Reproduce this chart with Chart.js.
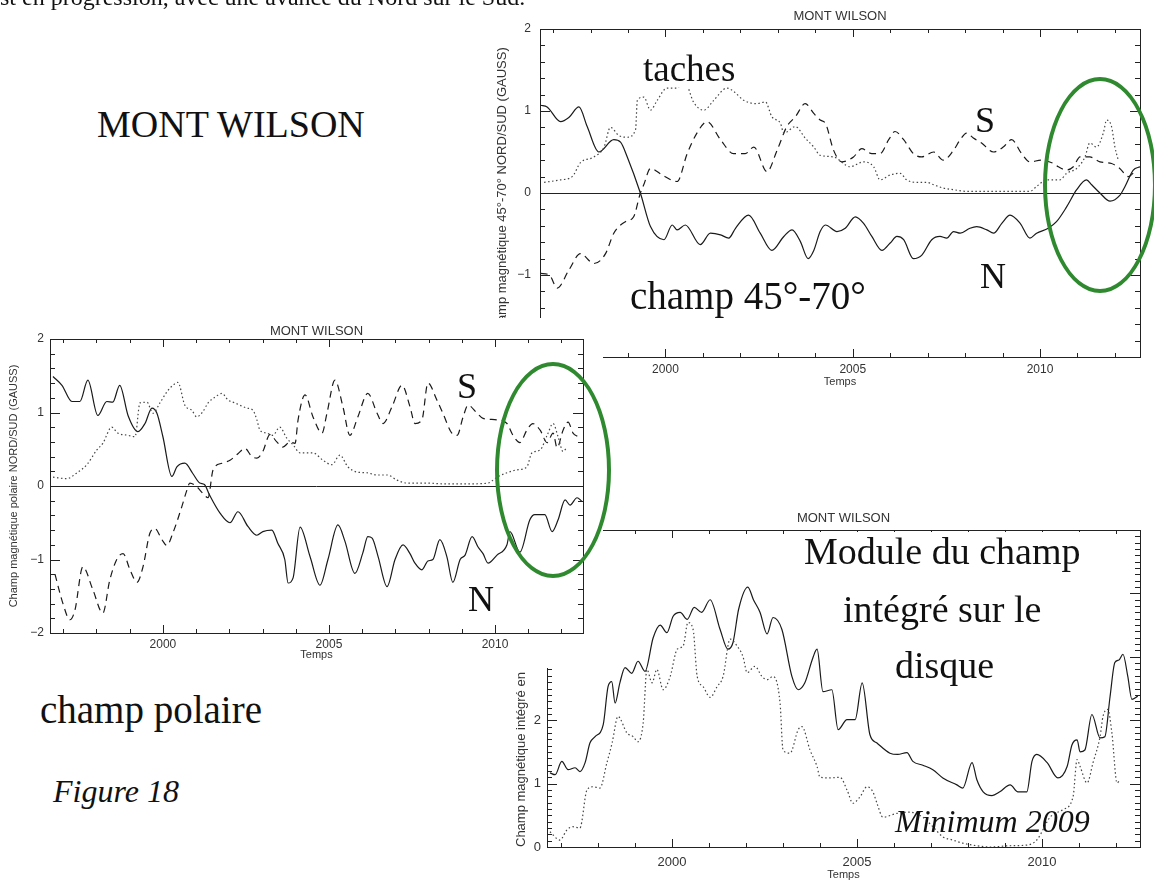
<!DOCTYPE html>
<html>
<head>
<meta charset="utf-8">
<script src="https://cdn.jsdelivr.net/npm/chart.js@4.4.1/dist/chart.umd.min.js"></script>
<style>
  body { margin: 0; width: 1154px; height: 884px; overflow: hidden; background: #fff; position: relative; font-family: "Liberation Serif", "Times New Roman", serif; }
  .panel { position: absolute; }
  .panel canvas { display: block; }
  .txt { position: absolute; color: #111; white-space: nowrap; line-height: 1; z-index: 5; }
  .box { background: #fff; }
  .ell { position: absolute; border: 4px solid #2f8a2f; border-radius: 50%; box-sizing: border-box; z-index: 10; }
</style>
</head>
<body>

<div class="txt" style="left:0;top:-15px;font-size:24px">st en progression, avec une avance du Nord sur le Sud.</div>

<div class="panel" id="panelA" style="left:480px;top:0;width:674px;height:392px;z-index:1"><canvas id="chartA" width="674" height="392"></canvas></div>
<div class="panel" id="panelC" style="left:480px;top:500px;width:674px;height:384px;z-index:2"><canvas id="chartC" width="674" height="384"></canvas></div>
<div class="panel" id="panelB" style="left:0;top:318px;width:603px;height:350px;z-index:3;background:#fff"><canvas id="chartB" width="603" height="350"></canvas></div>

<div class="txt" style="left:97px;top:105px;font-size:38px">MONT WILSON</div>
<div class="txt box" style="left:643px;top:50px;font-size:37px">taches</div>
<div class="txt" style="left:975px;top:102px;font-size:36px">S</div>
<div class="txt box" style="left:630px;top:276px;font-size:39px">champ 45°-70°</div>
<div class="txt" style="left:980px;top:258px;font-size:36px">N</div>
<div class="txt" style="left:457px;top:368px;font-size:36px">S</div>
<div class="txt" style="left:468px;top:581px;font-size:36px">N</div>
<div class="txt box" style="left:40px;top:690px;font-size:39px">champ polaire</div>
<div class="txt" style="left:53px;top:775px;font-size:32px;font-style:italic">Figure 18</div>
<div class="txt box" style="left:804px;top:532px;font-size:38px">Module du champ</div>
<div class="txt box" style="left:843px;top:590px;font-size:38px">intégré sur le</div>
<div class="txt box" style="left:895px;top:646px;font-size:38px">disque</div>
<div class="txt" style="left:895px;top:805px;font-size:32px;font-style:italic">Minimum 2009</div>

<div class="ell" style="left:1043px;top:77px;width:114px;height:216px"></div>
<div class="ell" style="left:495px;top:362px;width:116px;height:216px"></div>

<script>
// champ 45°-70° (Mont Wilson), [année, gauss]
const latNord = [[1996.67,1.07],[1996.84,1.05],[1997.2,0.87],[1997.42,0.92],[1997.69,1.05],[1997.91,0.81],[1998.22,0.5],[1998.62,0.65],[1998.8,0.62],[1998.98,0.44],[1999.33,0.0],[1999.6,-0.41],[1999.96,-0.57],[2000.18,-0.39],[2000.31,-0.45],[2000.53,-0.39],[2000.93,-0.63],[2001.2,-0.49],[2001.47,-0.51],[2001.69,-0.55],[2001.87,-0.43],[2002.22,-0.27],[2002.53,-0.49],[2002.84,-0.7],[2003.16,-0.53],[2003.38,-0.45],[2003.6,-0.59],[2003.81,-0.8],[2003.96,-0.7],[2004.13,-0.47],[2004.27,-0.39],[2004.58,-0.47],[2004.8,-0.43],[2005.07,-0.29],[2005.29,-0.37],[2005.51,-0.53],[2005.78,-0.7],[2006.0,-0.61],[2006.18,-0.53],[2006.36,-0.57],[2006.62,-0.8],[2006.84,-0.76],[2007.11,-0.57],[2007.33,-0.53],[2007.51,-0.55],[2007.69,-0.47],[2007.87,-0.49],[2008.13,-0.43],[2008.31,-0.41],[2008.58,-0.45],[2008.76,-0.49],[2008.98,-0.37],[2009.2,-0.27],[2009.47,-0.37],[2009.73,-0.55],[2009.91,-0.49],[2010.22,-0.43],[2010.44,-0.35],[2010.71,-0.17],[2010.98,0.04],[2011.24,0.16],[2011.38,0.1],[2011.6,0.0],[2011.87,-0.1],[2012.13,-0.03],[2012.27,0.08],[2012.49,0.28],[2012.67,0.32]];
const latSud = [[1996.67,-0.98],[1996.9,-1.0],[1997.11,-1.16],[1997.42,-0.94],[1997.73,-0.74],[1998.09,-0.86],[1998.4,-0.74],[1998.62,-0.49],[1998.93,-0.35],[1999.15,-0.29],[1999.33,0.0],[1999.42,0.1],[1999.6,0.3],[1999.91,0.22],[2000.31,0.14],[2000.58,0.48],[2000.84,0.73],[2001.11,0.87],[2001.47,0.65],[2001.82,0.48],[2002.13,0.48],[2002.36,0.56],[2002.71,0.26],[2002.98,0.52],[2003.24,0.81],[2003.47,0.93],[2003.73,1.09],[2003.96,0.97],[2004.13,0.89],[2004.27,0.85],[2004.49,0.52],[2004.71,0.38],[2005.02,0.44],[2005.24,0.54],[2005.51,0.48],[2005.73,0.48],[2005.96,0.65],[2006.13,0.75],[2006.36,0.65],[2006.62,0.48],[2006.84,0.44],[2007.16,0.5],[2007.42,0.4],[2007.69,0.52],[2007.87,0.65],[2008.04,0.73],[2008.22,0.67],[2008.44,0.61],[2008.76,0.5],[2009.02,0.56],[2009.24,0.65],[2009.51,0.48],[2009.73,0.38],[2010.04,0.4],[2010.36,0.36],[2010.49,0.32],[2010.71,0.28],[2010.89,0.32],[2011.07,0.44],[2011.33,0.44],[2011.6,0.38],[2011.91,0.36],[2012.13,0.3],[2012.36,0.2],[2012.55,0.27]];
const latTaches = [[1996.76,0.13],[1997.2,0.16],[1997.51,0.2],[1997.73,0.37],[1998.09,0.44],[1998.36,0.56],[1998.53,0.8],[1998.76,0.7],[1998.98,0.68],[1999.2,0.77],[1999.25,1.13],[1999.42,1.17],[1999.6,1.01],[1999.78,1.13],[2000.04,1.28],[2000.31,1.28],[2000.49,1.38],[2000.76,1.1],[2001.02,1.01],[2001.29,1.13],[2001.64,1.28],[2001.82,1.24],[2002.09,1.13],[2002.44,1.09],[2002.67,1.11],[2002.84,0.93],[2003.07,0.85],[2003.16,0.73],[2003.47,0.81],[2003.73,0.67],[2003.96,0.56],[2004.13,0.46],[2004.49,0.44],[2004.93,0.32],[2005.29,0.38],[2005.56,0.32],[2005.73,0.16],[2006.0,0.22],[2006.27,0.24],[2006.44,0.16],[2006.71,0.13],[2006.98,0.13],[2007.16,0.1],[2007.42,0.06],[2007.69,0.04],[2008.04,0.02],[2008.93,0.02],[2009.73,0.02],[2009.91,0.08],[2010.18,0.16],[2010.53,0.16],[2010.71,0.24],[2010.98,0.3],[2011.2,0.44],[2011.33,0.61],[2011.51,0.56],[2011.69,0.73],[2011.78,0.89],[2011.91,0.81],[2012.0,0.56],[2012.09,0.4]];

// champ polaire
const polNord = [[1996.69,1.49],[1996.96,1.37],[1997.26,1.15],[1997.5,1.15],[1997.74,1.44],[1998.04,0.96],[1998.31,1.15],[1998.49,1.14],[1998.7,1.37],[1998.95,0.96],[1999.25,0.74],[1999.46,0.85],[1999.67,1.06],[1999.82,0.99],[2000.0,0.67],[2000.27,0.13],[2000.42,0.26],[2000.66,0.31],[2000.9,0.17],[2001.11,0.04],[2001.25,0.02],[2001.4,-0.12],[2001.72,-0.37],[2002.02,-0.5],[2002.26,-0.35],[2002.56,-0.55],[2002.83,-0.67],[2003.01,-0.62],[2003.28,-0.6],[2003.46,-0.78],[2003.67,-1.0],[2003.77,-1.32],[2003.92,-1.25],[2004.13,-0.56],[2004.43,-0.96],[2004.73,-1.35],[2004.97,-1.0],[2005.27,-0.53],[2005.48,-0.75],[2005.78,-1.19],[2006.02,-0.91],[2006.17,-0.69],[2006.3,-0.71],[2006.48,-0.96],[2006.75,-1.37],[2006.99,-1.0],[2007.23,-0.8],[2007.44,-0.92],[2007.59,-1.05],[2007.8,-1.14],[2007.98,-1.02],[2008.13,-1.0],[2008.34,-0.73],[2008.55,-0.96],[2008.73,-1.31],[2008.95,-1.0],[2009.1,-0.94],[2009.31,-0.69],[2009.49,-0.83],[2009.64,-0.92],[2009.79,-1.05],[2010.06,-0.94],[2010.36,-0.8],[2010.45,-0.62],[2010.75,-0.9],[2011.05,-0.46],[2011.2,-0.39],[2011.5,-0.39],[2011.72,-0.62],[2011.9,-0.46],[2012.11,-0.19],[2012.26,-0.26],[2012.47,-0.16],[2012.62,-0.21]];
const polSud = [[1996.75,-1.2],[1996.99,-1.6],[1997.2,-1.82],[1997.35,-1.69],[1997.59,-1.1],[1997.89,-1.41],[1998.19,-1.73],[1998.4,-1.28],[1998.61,-1.0],[1998.8,-0.92],[1999.01,-1.14],[1999.22,-1.31],[1999.4,-1.1],[1999.61,-0.64],[1999.76,-0.58],[1999.97,-0.73],[2000.12,-0.81],[2000.3,-0.64],[2000.57,-0.28],[2000.72,-0.06],[2000.81,0.04],[2001.02,-0.01],[2001.2,-0.1],[2001.36,-0.16],[2001.51,0.22],[2001.78,0.31],[2002.02,0.35],[2002.26,0.44],[2002.47,0.51],[2002.68,0.4],[2002.83,0.38],[2003.01,0.47],[2003.22,0.7],[2003.43,0.6],[2003.61,0.53],[2003.83,0.6],[2003.98,0.58],[2004.07,0.9],[2004.28,1.24],[2004.52,0.94],[2004.79,0.72],[2004.94,0.99],[2005.18,1.44],[2005.42,1.08],[2005.63,0.69],[2005.87,0.94],[2006.17,1.26],[2006.45,0.99],[2006.63,0.85],[2006.9,1.08],[2007.2,1.37],[2007.44,1.08],[2007.59,0.85],[2007.8,0.9],[2007.98,1.4],[2008.25,1.17],[2008.43,0.99],[2008.7,0.72],[2008.86,0.69],[2009.04,0.94],[2009.19,1.1],[2009.46,0.99],[2009.64,0.92],[2010.06,0.9],[2010.36,0.85],[2010.54,0.69],[2010.75,0.59],[2010.96,0.76],[2011.14,0.85],[2011.36,0.76],[2011.57,0.59],[2011.75,0.72],[2011.87,0.52],[2012.05,0.76],[2012.2,0.87],[2012.35,0.72],[2012.5,0.67]];
const polTaches = [[1996.69,0.12],[1997.11,0.1],[1997.41,0.18],[1997.71,0.29],[1998.01,0.49],[1998.19,0.58],[1998.46,0.8],[1998.64,0.72],[1998.95,0.69],[1999.16,0.67],[1999.31,1.13],[1999.52,1.14],[1999.7,0.99],[1999.91,1.13],[2000.12,1.28],[2000.3,1.37],[2000.45,1.41],[2000.66,1.1],[2000.87,1.03],[2001.02,0.94],[2001.2,1.01],[2001.36,1.13],[2001.57,1.21],[2001.78,1.26],[2001.96,1.17],[2002.17,1.13],[2002.53,1.06],[2002.71,1.03],[2002.83,0.9],[2002.92,0.76],[2003.13,0.72],[2003.31,0.69],[2003.52,0.8],[2003.73,0.65],[2003.92,0.56],[2004.13,0.45],[2004.52,0.45],[2004.82,0.35],[2005.09,0.29],[2005.33,0.42],[2005.57,0.26],[2005.84,0.19],[2006.14,0.18],[2006.45,0.15],[2006.75,0.15],[2007.05,0.08],[2007.35,0.04],[2007.95,0.04],[2008.43,0.03],[2009.34,0.03],[2009.79,0.04],[2010.06,0.12],[2010.36,0.18],[2010.66,0.22],[2010.96,0.26],[2011.11,0.45],[2011.36,0.49],[2011.57,0.69],[2011.75,0.85],[2011.9,0.67],[2012.05,0.47],[2012.17,0.53]];

// module du champ intégré sur le disque
const modChamp = [[1996.7,1.17],[1996.84,1.14],[1997.02,1.35],[1997.19,1.22],[1997.38,1.25],[1997.51,1.19],[1997.65,1.33],[1997.78,1.64],[1997.92,1.74],[1998.14,1.93],[1998.27,2.53],[1998.37,2.61],[1998.46,2.27],[1998.59,2.59],[1998.73,2.83],[1998.91,2.74],[1999.08,2.93],[1999.27,2.77],[1999.49,3.3],[1999.68,3.5],[1999.86,3.38],[2000.03,3.64],[2000.22,3.7],[2000.41,3.59],[2000.6,3.78],[2000.8,3.7],[2001.03,3.9],[2001.3,3.43],[2001.51,3.12],[2001.65,3.23],[2001.8,3.75],[2002.05,4.1],[2002.2,3.9],[2002.38,3.7],[2002.57,3.36],[2002.73,3.62],[2002.97,3.43],[2003.24,2.69],[2003.41,2.48],[2003.59,2.59],[2003.81,2.99],[2003.92,3.12],[2004.08,2.45],[2004.32,2.48],[2004.49,1.85],[2004.73,2.01],[2004.95,2.01],[2005.14,2.59],[2005.35,1.77],[2005.54,1.64],[2005.89,1.48],[2006.1,1.46],[2006.35,1.49],[2006.51,1.35],[2006.78,1.29],[2007.05,1.22],[2007.32,1.09],[2007.7,0.98],[2007.86,0.93],[2008.11,1.33],[2008.24,1.06],[2008.41,0.87],[2008.65,0.81],[2008.86,0.87],[2009.14,0.98],[2009.35,0.87],[2009.59,0.87],[2009.73,1.35],[2009.86,1.46],[2010.14,1.33],[2010.43,1.09],[2010.68,1.27],[2010.81,1.61],[2010.95,1.69],[2011.03,1.5],[2011.16,1.53],[2011.35,2.09],[2011.57,1.72],[2011.7,1.74],[2011.84,2.37],[2011.97,2.91],[2012.08,2.95],[2012.19,3.04],[2012.32,2.69],[2012.43,2.33],[2012.59,2.38]];
const modTaches = [[1996.7,0.24],[1996.97,0.11],[1997.16,0.27],[1997.32,0.32],[1997.51,0.3],[1997.7,0.9],[1997.86,0.95],[1998.05,0.93],[1998.24,1.33],[1998.38,1.64],[1998.54,2.06],[1998.78,1.8],[1998.95,1.74],[1999.08,1.66],[1999.22,1.96],[1999.32,2.8],[1999.46,2.59],[1999.59,2.8],[1999.76,2.48],[1999.95,2.69],[2000.14,3.12],[2000.3,3.17],[2000.43,3.54],[2000.57,3.43],[2000.68,2.69],[2000.84,2.53],[2001.03,2.36],[2001.22,2.53],[2001.38,2.69],[2001.57,3.28],[2001.76,3.17],[2001.92,3.0],[2002.03,2.75],[2002.24,2.85],[2002.43,2.69],[2002.57,2.64],[2002.73,2.69],[2002.92,2.27],[2003.0,1.53],[2003.19,1.48],[2003.41,1.85],[2003.51,1.9],[2003.73,1.53],[2003.92,1.27],[2004.0,1.1],[2004.27,1.09],[2004.54,1.1],[2004.73,0.9],[2004.89,0.69],[2005.08,0.79],[2005.27,0.95],[2005.43,0.87],[2005.54,0.69],[2005.7,0.47],[2006.08,0.53],[2006.43,0.55],[2006.78,0.47],[2007.05,0.32],[2007.32,0.16],[2007.59,0.11],[2007.86,0.06],[2008.24,0.02],[2008.59,0.0],[2009.14,0.02],[2009.59,0.03],[2009.86,0.11],[2010.22,0.47],[2010.57,0.59],[2010.84,0.79],[2010.95,1.38],[2011.03,1.27],[2011.22,1.01],[2011.38,1.33],[2011.57,1.74],[2011.65,2.06],[2011.78,2.17],[2011.89,1.8],[2012.03,1.01],[2012.11,1.06]];

const ink = "#1a1a1a";
const labelColor = "#333";

// cadre IDL : traits de graduation vers l'intérieur sur les quatre côtés
const idlFrame = {
    id: "idlFrame",
    afterDatasetsDraw(chart, args, o) {
        const { ctx, chartArea: a, scales: { x, y } } = chart;
        ctx.save();
        ctx.strokeStyle = "#222";
        ctx.lineWidth = 1;
        ctx.strokeRect(Math.round(a.left) + 0.5, Math.round(a.top) + 0.5, Math.round(a.width), Math.round(a.height));
        ctx.beginPath();
        for (let v = Math.ceil(x.min); v <= x.max; v++) {
            const len = v % 5 === 0 ? o.xMajor : o.xMinor;
            const px = Math.round(x.getPixelForValue(v)) + 0.5;
            ctx.moveTo(px, a.bottom); ctx.lineTo(px, a.bottom - len);
            ctx.moveTo(px, a.top); ctx.lineTo(px, a.top + len);
        }
        const n = Math.round((y.max - y.min) / o.yStep);
        for (let i = 0; i <= n; i++) {
            const v = y.min + i * o.yStep;
            const len = Math.abs(v - Math.round(v)) < 1e-6 ? o.yMajor : o.yMinor;
            const py = Math.round(y.getPixelForValue(v)) + 0.5;
            ctx.moveTo(a.left, py); ctx.lineTo(a.left + len, py);
            ctx.moveTo(a.right, py); ctx.lineTo(a.right - len, py);
        }
        if (o.zeroLine) {
            const py = Math.round(y.getPixelForValue(0)) + 0.5;
            ctx.moveTo(a.left, py); ctx.lineTo(a.right, py);
        }
        ctx.stroke();
        ctx.fillStyle = labelColor;
        ctx.font = '13px "Liberation Sans", Arial, sans-serif';
        ctx.textAlign = "center";
        ctx.textBaseline = "middle";
        ctx.fillText(o.title, (a.left + a.right) / 2, a.top - o.titleGap);
        ctx.restore();
    }
};

function toPoints(series) {
    return series.map(p => ({ x: p[0], y: p[1] }));
}

function lineSet(series, style) {
    const base = {
        data: toPoints(series),
        borderColor: ink,
        borderWidth: 1.2,
        pointRadius: 0,
        fill: false,
        cubicInterpolationMode: "monotone"
    };
    if (style === "dash") base.borderDash = [7, 5];
    if (style === "dot") { base.borderDash = [1.5, 2.5]; base.borderColor = "#444"; }
    return base;
}

function minusLabel(v) {
    if (Math.abs(v - Math.round(v)) > 1e-6) return "";
    return v < 0 ? "\u2212" + Math.abs(v) : String(v);
}

function makeChart(id, cfg) {
    const ctx = document.getElementById(id).getContext("2d");
    return new Chart(ctx, {
        type: "line",
        data: { datasets: cfg.datasets },
        plugins: [idlFrame],
        options: {
            responsive: false,
            animation: false,
            devicePixelRatio: 1,
            layout: { padding: { top: cfg.padTop, right: cfg.padRight, left: 0, bottom: 0 } },
            plugins: {
                legend: { display: false },
                tooltip: { enabled: false },
                idlFrame: {
                    title: "MONT WILSON",
                    titleGap: cfg.titleGap,
                    zeroLine: cfg.zeroLine,
                    xMajor: 8, xMinor: 4,
                    yMajor: 10, yMinor: 5,
                    yStep: cfg.yStep
                }
            },
            scales: {
                x: {
                    type: "linear",
                    min: cfg.xMin,
                    max: cfg.xMax,
                    grid: { display: false, drawTicks: false },
                    border: { display: false },
                    afterFit: s => { s.height = cfg.xHeight; },
                    ticks: {
                        stepSize: 1,
                        autoSkip: false,
                        maxRotation: 0,
                        includeBounds: false,
                        padding: cfg.xTickPad,
                        color: labelColor,
                        font: { family: "Liberation Sans", size: cfg.tickSize },
                        callback: v => (Math.abs(v % 5) < 1e-6 ? String(v) : "")
                    },
                    title: {
                        display: true,
                        text: "Temps",
                        color: labelColor,
                        font: { family: "Liberation Sans", size: 11 },
                        padding: { top: 0, bottom: cfg.xTitlePad }
                    }
                },
                y: {
                    min: cfg.yMin,
                    max: cfg.yMax,
                    grid: { display: false, drawTicks: false },
                    border: { display: false },
                    afterFit: s => { s.width = cfg.yWidth; },
                    ticks: {
                        stepSize: 1,
                        padding: cfg.yTickPad,
                        color: labelColor,
                        font: { family: "Liberation Sans", size: cfg.tickSize },
                        callback: minusLabel
                    },
                    title: {
                        display: true,
                        text: cfg.yTitle,
                        align: cfg.yTitleAlign,
                        color: labelColor,
                        font: { family: "Liberation Sans", size: cfg.yTitleSize },
                        padding: { top: cfg.yTitlePad, bottom: 0 }
                    }
                }
            }
        }
    });
}

makeChart("chartA", {
    datasets: [lineSet(latTaches, "dot"), lineSet(latSud, "dash"), lineSet(latNord, "solid")],
    padTop: 29, padRight: 14, xHeight: 35, yWidth: 60,
    xMin: 1996.65, xMax: 2012.67, yMin: -2, yMax: 2, yStep: 0.2,
    zeroLine: true, titleGap: 13, tickSize: 12,
    xTickPad: 5, xTitlePad: 3, yTickPad: 9,
    yTitle: "Champ magnétique 45°-70° NORD/SUD (GAUSS)", yTitleAlign: "center", yTitleSize: 13, yTitlePad: 15
});

makeChart("chartB", {
    datasets: [lineSet(polTaches, "dot"), lineSet(polSud, "dash"), lineSet(polNord, "solid")],
    padTop: 21, padRight: 20, xHeight: 35, yWidth: 50,
    xMin: 1996.6, xMax: 2012.65, yMin: -2, yMax: 2, yStep: 0.2,
    zeroLine: true, titleGap: 8, tickSize: 12,
    xTickPad: 4, xTitlePad: 6, yTickPad: 6,
    yTitle: "Champ magnétique polaire NORD/SUD (GAUSS)", yTitleAlign: "center", yTitleSize: 11, yTitlePad: 7
});

makeChart("chartC", {
    datasets: [lineSet(modTaches, "dot"), lineSet(modChamp, "solid")],
    padTop: 30, padRight: 14, xHeight: 37, yWidth: 67,
    xMin: 1996.62, xMax: 2012.65, yMin: 0, yMax: 5, yStep: 0.1,
    zeroLine: false, titleGap: 12, tickSize: 13,
    xTickPad: 8, xTitlePad: 2, yTickPad: 6,
    yTitle: "Champ magnétique intégré en", yTitleAlign: "start", yTitleSize: 13, yTitlePad: 34
});
</script>
</body>
</html>
